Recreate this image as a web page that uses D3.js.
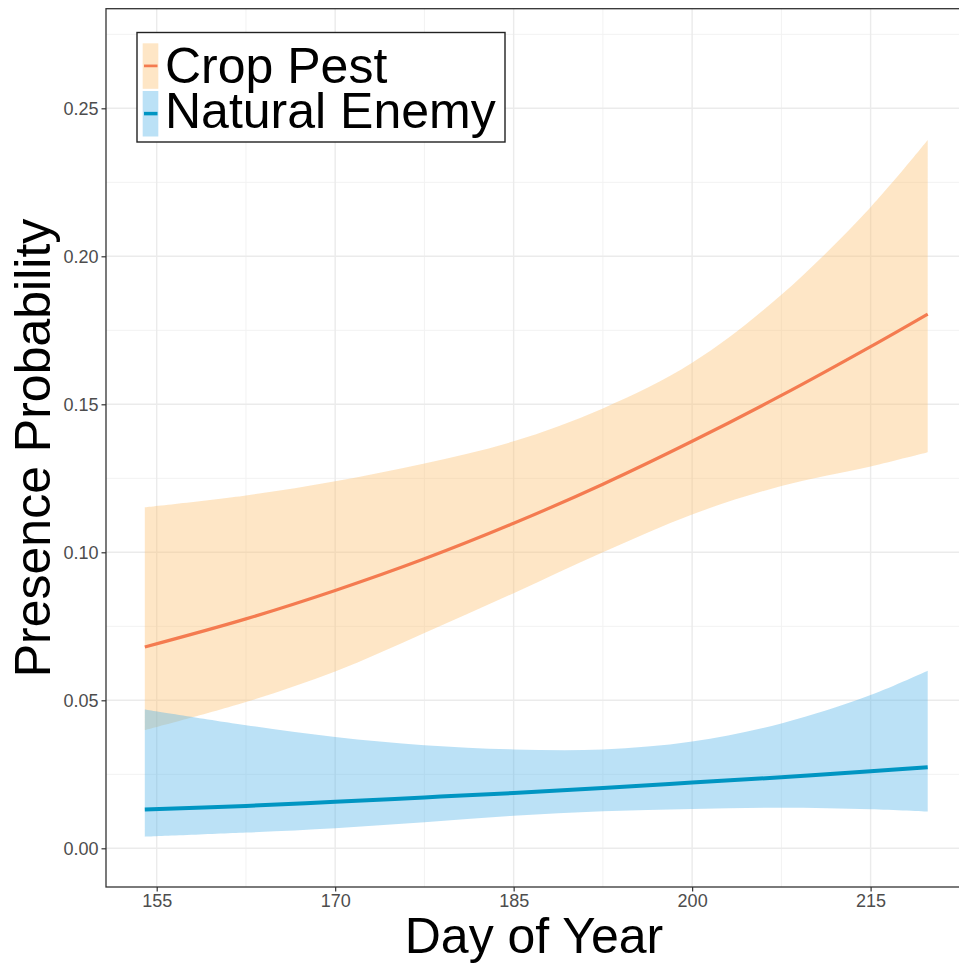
<!DOCTYPE html>
<html><head><meta charset="utf-8">
<script src="https://cdn.jsdelivr.net/npm/d3@7"></script>
<style>html,body{margin:0;padding:0;background:#fff;}svg{display:block;font-family:"Liberation Sans",Arial,sans-serif;}</style>
</head><body>
<svg id="chart" width="959" height="964"></svg>
<script>
// ---- data ----
const days = [154, 162.5, 170, 177.5, 185, 192.5, 200, 207.5, 215, 219.8];
const pestFit   = [0.0680, 0.0775, 0.0871, 0.0978, 0.1098, 0.1230, 0.1375, 0.1530, 0.1695, 0.1805];
const pestUpper = [0.1152, 0.1192, 0.1240, 0.1300, 0.1375, 0.1486, 0.1640, 0.1870, 0.2166, 0.2393];
const pestLower = [0.0399, 0.0494, 0.0597, 0.0727, 0.0862, 0.1000, 0.1128, 0.1224, 0.1290, 0.1338];
const enemyFit   = [0.0131, 0.0143, 0.0157, 0.0172, 0.0187, 0.0204, 0.0222, 0.0240, 0.0260, 0.0274];
const enemyUpper = [0.0469, 0.0416, 0.0376, 0.0348, 0.0334, 0.0334, 0.0361, 0.0422, 0.0518, 0.0600];
const enemyLower = [0.0039, 0.0053, 0.0068, 0.0088, 0.0110, 0.0125, 0.0133, 0.0137, 0.0132, 0.0124];
const seriesNames = ["Crop Pest", "Natural Enemy"];
const xTicks = [155, 170, 185, 200, 215];
const xMinor = [162.5, 177.5, 192.5, 207.5, 222.5];
const yTicks = [0, 0.05, 0.10, 0.15, 0.20, 0.25];
const yMinor = [0.025, 0.075, 0.125, 0.175, 0.225, 0.275];

const series = [
  {name: seriesNames[0], fit: pestFit, lo: pestLower, hi: pestUpper, fill: "#FDC170", line: "#F47B50", lw: 3.2},
  {name: seriesNames[1], fit: enemyFit, lo: enemyLower, hi: enemyUpper, fill: "#56B4E9", line: "#0095C2", lw: 4}
];

const svg = d3.select("#chart");
const P = {left: 106, top: 8.7, right: 975, bottom: 887};

const x = d3.scaleLinear().domain([155, 215]).range([156.7, 870.6]);
const y = d3.scaleLinear().domain([0, 0.25]).range([848.3, 108.3]);

svg.append("defs").append("clipPath").attr("id","clip")
  .append("rect").attr("x",P.left).attr("y",P.top).attr("width",P.right-P.left).attr("height",P.bottom-P.top);

const g = svg.append("g").attr("clip-path","url(#clip)");
g.selectAll(".xm").data(xMinor).join("line").attr("x1",d=>x(d)).attr("x2",d=>x(d)).attr("y1",P.top).attr("y2",P.bottom)
  .attr("stroke","#F2F2F2").attr("stroke-width",1);
g.selectAll(".ym").data(yMinor).join("line").attr("y1",d=>y(d)).attr("y2",d=>y(d)).attr("x1",P.left).attr("x2",P.right)
  .attr("stroke","#F2F2F2").attr("stroke-width",1);
g.selectAll(".xM").data(xTicks).join("line").attr("x1",d=>x(d)).attr("x2",d=>x(d)).attr("y1",P.top).attr("y2",P.bottom)
  .attr("stroke","#EBEBEB").attr("stroke-width",1.4);
g.selectAll(".yM").data(yTicks).join("line").attr("y1",d=>y(d)).attr("y2",d=>y(d)).attr("x1",P.left).attr("x2",P.right)
  .attr("stroke","#EBEBEB").attr("stroke-width",1.4);

const area = d3.area().x(d=>x(d.day)).y0(d=>y(d.lo)).y1(d=>y(d.hi)).curve(d3.curveCatmullRom.alpha(0.5));
const line = d3.line().x(d=>x(d.day)).y(d=>y(d.fit)).curve(d3.curveCatmullRom.alpha(0.5));
series.forEach(s=>{
  s.pts = days.map((d,i)=>({day:d, fit:s.fit[i], lo:s.lo[i], hi:s.hi[i]}));
});
series.forEach(s=>{
  g.append("path").datum(s.pts).attr("d",area).attr("fill",s.fill).attr("fill-opacity",0.4);
});
series.forEach(s=>{
  g.append("path").datum(s.pts).attr("d",line).attr("fill","none").attr("stroke",s.line).attr("stroke-width",s.lw);
});

svg.append("rect").attr("x",P.left).attr("y",P.top).attr("width",P.right-P.left).attr("height",P.bottom-P.top)
  .attr("fill","none").attr("stroke","#333").attr("stroke-width",1.3);

const xAxis = svg.append("g").attr("transform",`translate(0,${P.bottom})`)
  .call(d3.axisBottom(x).tickValues(xTicks).tickSize(4.5).tickPadding(2.5).tickFormat(d3.format("d")));
const yAxis = svg.append("g").attr("transform",`translate(${P.left},0)`)
  .call(d3.axisLeft(y).tickValues(yTicks).tickSize(4.5).tickPadding(3).tickFormat(d3.format(".2f")));
[xAxis,yAxis].forEach(a=>{
  a.select(".domain").remove();
  a.selectAll(".tick line").attr("stroke","#333").attr("stroke-width",1.2);
  a.selectAll(".tick text").attr("fill","#4D4D4D").style("font-size","18px").style("font-family","'Liberation Sans',Arial,sans-serif");
});

svg.append("text").attr("x",534).attr("y",953).attr("text-anchor","middle")
  .style("font-size","50px").attr("fill","#000").text("Day of Year");
svg.append("text").attr("transform","translate(50,448) rotate(-90)").attr("text-anchor","middle")
  .style("font-size","50px").attr("fill","#000").text("Presence Probability");

const L = svg.append("g");
L.append("rect").attr("x",137).attr("y",32.5).attr("width",368).attr("height",109.5)
  .attr("fill","#fff").attr("stroke","#222").attr("stroke-width",1.4);
const keyY = [43.3, 91];
series.forEach((s,i)=>{
  L.append("rect").attr("x",142.7).attr("y",keyY[i]).attr("width",15.6).attr("height",45.5)
    .attr("fill",s.fill).attr("fill-opacity",0.4);
  L.append("line").attr("x1",144).attr("x2",157.5).attr("y1",keyY[i]+22.6).attr("y2",keyY[i]+22.6)
    .attr("stroke",s.line).attr("stroke-width",s.lw-0.5);
  L.append("text").attr("x",165).attr("y",[83.3,128.3][i]).style("font-size","50px").attr("fill","#000").text(s.name);
});
</script>
</body></html>
